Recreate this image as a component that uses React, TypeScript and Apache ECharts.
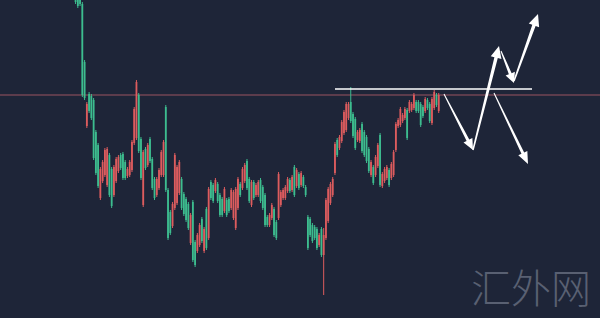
import React, { useEffect, useRef } from "react";
import * as echarts from "echarts";

// category slots across the width, and the slot of the first visible bar
const slotCount = 266;
const firstSlot = 33;

// [open, close, low, high] (price points)
const bars: number[][] = [
  [326, 316, 314, 328], [322, 312, 310, 324], [320, 314, 312, 322], [314, 223, 221, 316], [256, 220, 218, 258],
  [192, 214, 190, 216], [224, 207, 205, 226], [222, 200, 198, 224], [218, 160, 158, 220], [186, 145, 143, 188],
  [173, 132, 130, 175], [120, 149, 118, 151], [137, 156, 135, 158], [143, 168, 141, 170], [133, 169, 131, 171],
  [163, 123, 121, 165], [149, 112, 110, 151], [123, 151, 121, 153], [137, 159, 135, 161], [147, 161, 145, 163],
  [163, 150, 148, 165], [164, 140, 138, 166], [156, 140, 138, 158], [142, 149, 140, 151], [143, 156, 141, 158],
  [148, 176, 146, 178], [175, 209, 173, 211], [180, 236, 178, 238], [223, 167, 165, 225], [179, 140, 138, 181],
  [113, 166, 111, 168], [169, 150, 148, 171], [153, 173, 151, 175], [179, 157, 155, 181], [159, 130, 128, 161],
  [139, 120, 118, 141], [123, 139, 121, 141], [130, 148, 128, 150], [143, 166, 141, 168], [143, 176, 141, 178],
  [211, 128, 126, 213], [128, 80, 78, 130], [106, 85, 83, 108], [92, 114, 90, 116], [110, 163, 108, 165],
  [115, 151, 113, 153], [125, 156, 123, 158], [139, 110, 108, 141], [124, 104, 102, 126], [119, 98, 96, 121],
  [114, 90, 88, 116], [75, 103, 73, 105], [116, 58, 56, 118], [76, 53, 51, 78], [67, 83, 65, 85],
  [73, 93, 71, 95], [99, 77, 75, 101], [67, 89, 65, 91], [109, 70, 68, 111], [80, 129, 78, 131],
  [136, 120, 118, 138], [133, 117, 115, 135], [127, 138, 125, 140], [134, 117, 115, 136], [123, 103, 101, 125],
  [119, 103, 101, 121], [107, 129, 105, 131], [118, 103, 101, 120], [119, 107, 105, 121], [110, 128, 108, 130],
  [100, 126, 98, 128], [90, 129, 88, 131], [110, 139, 108, 141], [134, 123, 121, 136], [130, 149, 128, 151],
  [137, 153, 135, 155], [157, 130, 128, 159], [139, 117, 115, 141], [113, 136, 111, 138], [136, 120, 118, 138],
  [123, 133, 121, 135], [123, 136, 121, 138], [138, 117, 115, 140], [131, 110, 108, 133], [123, 93, 91, 125],
  [101, 93, 91, 103], [93, 103, 91, 105], [100, 113, 98, 115], [109, 83, 81, 111], [96, 80, 78, 98],
  [100, 144, 98, 146], [113, 126, 111, 128], [120, 128, 118, 130], [120, 131, 118, 133], [127, 139, 125, 141],
  [138, 127, 125, 140], [128, 141, 126, 143], [151, 123, 121, 153], [132, 148, 130, 150], [144, 130, 128, 146],
  [133, 145, 131, 147], [141, 132, 130, 143], [131, 123, 121, 133], [101, 70, 68, 103], [99, 83, 81, 101],
  [93, 77, 75, 95], [91, 80, 78, 93], [89, 70, 68, 91], [73, 83, 71, 85], [89, 63, 61, 91],
  [63, 83, 23, 90], [80, 118, 78, 120], [97, 129, 95, 131], [115, 134, 113, 136], [123, 139, 121, 141],
  [145, 174, 143, 176], [178, 163, 161, 180], [170, 181, 168, 183], [177, 196, 175, 198], [185, 206, 183, 208],
  [188, 214, 186, 216], [200, 214, 198, 216], [216, 197, 195, 231], [204, 182, 180, 206], [199, 170, 168, 201],
  [178, 186, 176, 188], [177, 188, 175, 190], [194, 167, 165, 196], [186, 163, 161, 188], [181, 157, 155, 183],
  [169, 147, 145, 171], [143, 156, 141, 158], [151, 135, 133, 153], [143, 161, 141, 163], [152, 173, 150, 175],
  [183, 133, 131, 185], [132, 144, 130, 146], [137, 149, 135, 151], [140, 151, 138, 153], [148, 133, 131, 150],
  [140, 154, 138, 156], [143, 166, 141, 168], [168, 194, 166, 196], [192, 198, 190, 200], [193, 209, 191, 211],
  [197, 203, 195, 205], [200, 209, 198, 211], [208, 180, 178, 210], [207, 216, 205, 218], [208, 214, 206, 216],
  [210, 223, 208, 225], [216, 207, 205, 218], [216, 207, 205, 218], [214, 193, 191, 216], [211, 202, 200, 213],
  [207, 219, 205, 221], [218, 210, 208, 220], [214, 197, 195, 216], [195, 219, 193, 221], [210, 226, 208, 228],
  [223, 213, 211, 225], [207, 223, 205, 225],
];

const resistanceLevel = 223;
const rangeTopLevel = 229;
const watermark = "汇外网";

const upColor = "#dd5c5e";
const downColor = "#3dbd8f";
const bgColor = "#1e2538";
const levelColor = "#9a5560";

function arrowPoints(
  x1: number, y1: number, x2: number, y2: number,
  w0: number, w1: number, headLen: number, headW: number
): number[][] {
  const len = Math.hypot(x2 - x1, y2 - y1);
  const dx = (x2 - x1) / len;
  const dy = (y2 - y1) / len;
  const nx = -dy;
  const ny = dx;
  const bx = x2 - dx * headLen;
  const by = y2 - dy * headLen;
  return [
    [x1 + (nx * w0) / 2, y1 + (ny * w0) / 2],
    [bx + (nx * w1) / 2, by + (ny * w1) / 2],
    [bx + (nx * headW) / 2, by + (ny * headW) / 2],
    [x2, y2],
    [bx - (nx * headW) / 2, by - (ny * headW) / 2],
    [bx - (nx * w1) / 2, by - (ny * w1) / 2],
    [x1 - (nx * w0) / 2, y1 - (ny * w0) / 2],
  ];
}

export default function App() {
  const ref = useRef<HTMLDivElement>(null);

  useEffect(() => {
    if (!ref.current) return;
    const chart = echarts.init(ref.current, undefined, { renderer: "svg" });

    const categories = Array.from({ length: slotCount }, (_, i) => String(i));
    const data = bars.map((b, i) => [firstSlot + i, b[0], b[1], b[2], b[3]]);

    const renderCandle = (params: any, api: any) => {
      const x = api.value(0);
      const o = api.value(1);
      const c = api.value(2);
      const l = api.value(3);
      const h = api.value(4);
      const pl = api.coord([x, l]);
      const ph = api.coord([x, h]);
      const po = api.coord([x, o]);
      const pc = api.coord([x, c]);
      const color = c >= o ? upColor : downColor;
      const bw = 1.8;
      return {
        type: "group",
        children: [
          {
            type: "line",
            shape: { x1: ph[0], y1: ph[1], x2: pl[0], y2: pl[1] },
            style: { stroke: color, lineWidth: 1 },
          },
          {
            type: "rect",
            shape: {
              x: po[0] - bw / 2,
              y: Math.min(po[1], pc[1]),
              width: bw,
              height: Math.max(1, Math.abs(po[1] - pc[1])),
            },
            style: { fill: color },
          },
        ],
      };
    };

    const arrows = [
      [444, 94, 473, 150, 1, 3, 11, 10],
      [473, 150, 499, 46, 1.5, 3.5, 12, 11],
      [501, 51, 514, 83, 1, 3, 10, 10],
      [514, 81, 538, 14, 1.5, 3.5, 12, 11],
      [494, 93, 528, 164, 1, 3, 12, 10],
    ];

    chart.setOption({
      animation: false,
      backgroundColor: bgColor,
      grid: { left: 0, right: 0, top: 0, bottom: 0 },
      xAxis: {
        type: "category",
        data: categories,
        boundaryGap: true,
        show: false,
      },
      yAxis: {
        type: "value",
        min: 0,
        max: 318,
        show: false,
        splitLine: { show: false },
      },
      series: [
        {
          type: "custom",
          data,
          encode: { x: 0, y: [1, 2, 3, 4] },
          clip: true,
          renderItem: renderCandle,
        },
      ],
    });

    const levelY = chart.convertToPixel({ yAxisIndex: 0 }, resistanceLevel) as number;
    const topY = chart.convertToPixel({ yAxisIndex: 0 }, rangeTopLevel) as number;

    chart.setOption({
      graphic: [
        {
          type: "line",
          shape: { x1: 0, y1: levelY, x2: 600, y2: levelY },
          style: { stroke: levelColor, lineWidth: 1 },
          z: 1,
        },
        {
          type: "line",
          shape: { x1: 335, y1: topY, x2: 532, y2: topY },
          style: { stroke: "#ffffff", lineWidth: 1.5 },
          z: 10,
        },
        ...arrows.map((a) => ({
          type: "polygon",
          shape: { points: arrowPoints(a[0], a[1], a[2], a[3], a[4], a[5], a[6], a[7]) },
          style: { fill: "#ffffff" },
          z: 10,
        })),
        {
          type: "text",
          x: 531,
          y: 286,
          style: {
            text: watermark,
            fill: "#596072",
            font: '300 40px "Noto Sans CJK SC"',
            align: "center",
            verticalAlign: "middle",
          },
          z: 5,
        },
      ],
    });

    return () => chart.dispose();
  }, []);

  return (
    <div
      ref={ref}
      style={{ position: "fixed", left: 0, top: 0, width: 600, height: 318 }}
    />
  );
}
